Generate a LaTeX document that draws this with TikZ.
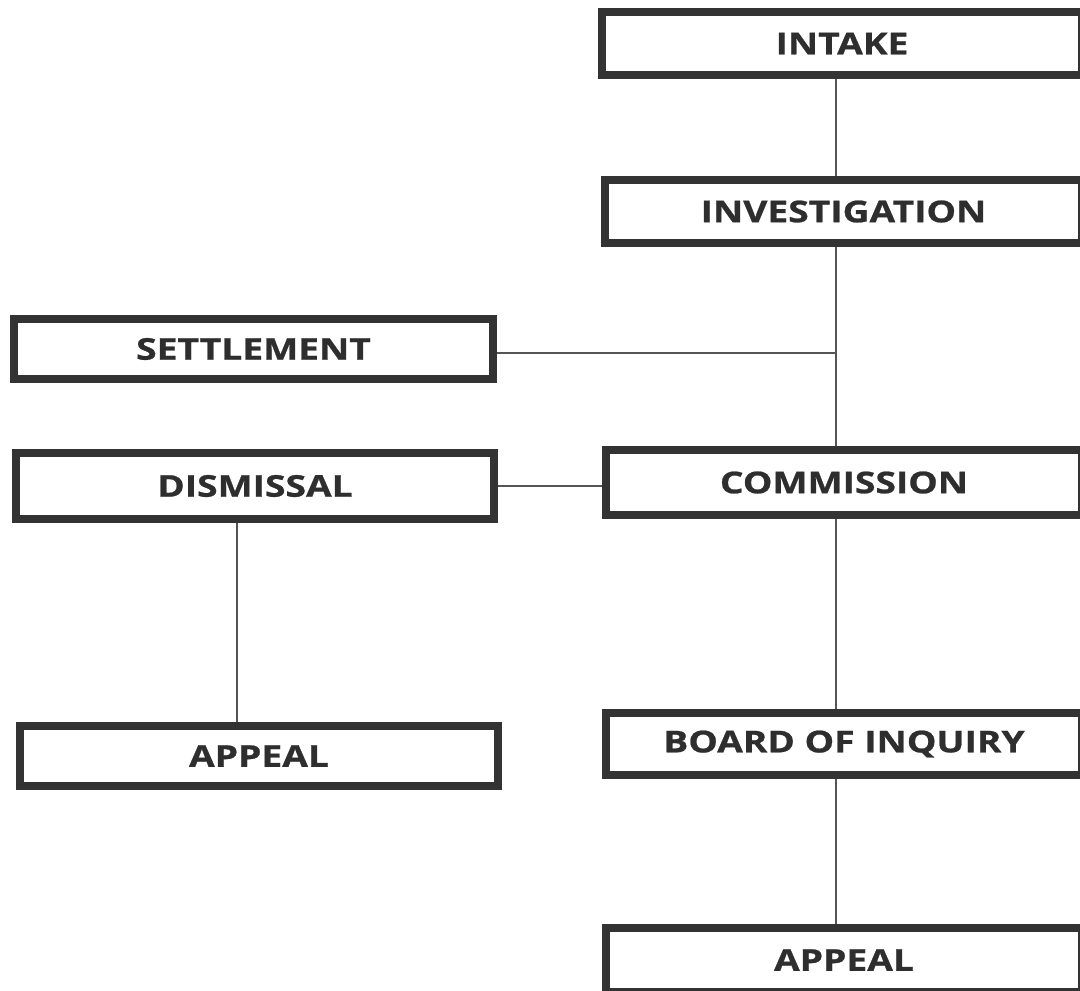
\documentclass[tikz,border=0pt]{standalone}
\usepackage{fontspec}
\setmainfont{Open Sans}[UprightFont=* Bold, FakeStretch=1.24, FakeBold=0.8]
\begin{document}
\begin{tikzpicture}[x=1pt,y=-1pt,
  box/.style={draw=boxgray, line width=8pt, fill=white, inner sep=0pt,
    font=\fontsize{30}{30}\selectfont, text=textgray},
  link/.style={draw=linegray, line width=2pt}]
\definecolor{boxgray}{HTML}{333333}
\definecolor{textgray}{HTML}{2E2E2E}
\definecolor{linegray}{HTML}{555555}
\useasboundingbox (0,0) rectangle (1080,991);
\fill[white] (0,0) rectangle (1080,991);
% right column
\node[box, minimum width=480pt, minimum height=63pt] (intake) at (842,43.5) {INTAKE};
\node[box, minimum width=477pt, minimum height=63pt] (invest) at (843.5,211.5) {INVESTIGATION};
\node[box, minimum width=476pt, minimum height=65pt] (comm) at (844,482.5) {COMMISSION};
\node[box, minimum width=476pt, minimum height=62pt] (board) at (844,744) {BOARD OF INQUIRY};
\node[box, minimum width=476pt, minimum height=64pt] (appr) at (844,960) {APPEAL};
% left column
\node[box, minimum width=479pt, minimum height=60pt] (settle) at (253.5,349) {SETTLEMENT};
\node[box, minimum width=478pt, minimum height=66pt] (dism) at (255,486) {DISMISSAL};
\node[box, minimum width=478pt, minimum height=60pt] (appl) at (259,756) {APPEAL};
% connectors
\coordinate (j1) at (836,352.5);
\draw[link] (intake.south -| j1) -- (invest.north -| j1);
\draw[link] (invest.south -| j1) -- (comm.north -| j1);
\draw[link] (settle.east |- j1) -- (j1);
\draw[link] (dism.east) -- (comm.west |- dism.east);
\draw[link] (comm.south -| j1) -- (board.north -| j1);
\draw[link] (board.south -| j1) -- (appr.north -| j1);
\coordinate (j2) at (237,0);
\draw[link] (dism.south -| j2) -- (appl.north -| j2);
\end{tikzpicture}
\end{document}
